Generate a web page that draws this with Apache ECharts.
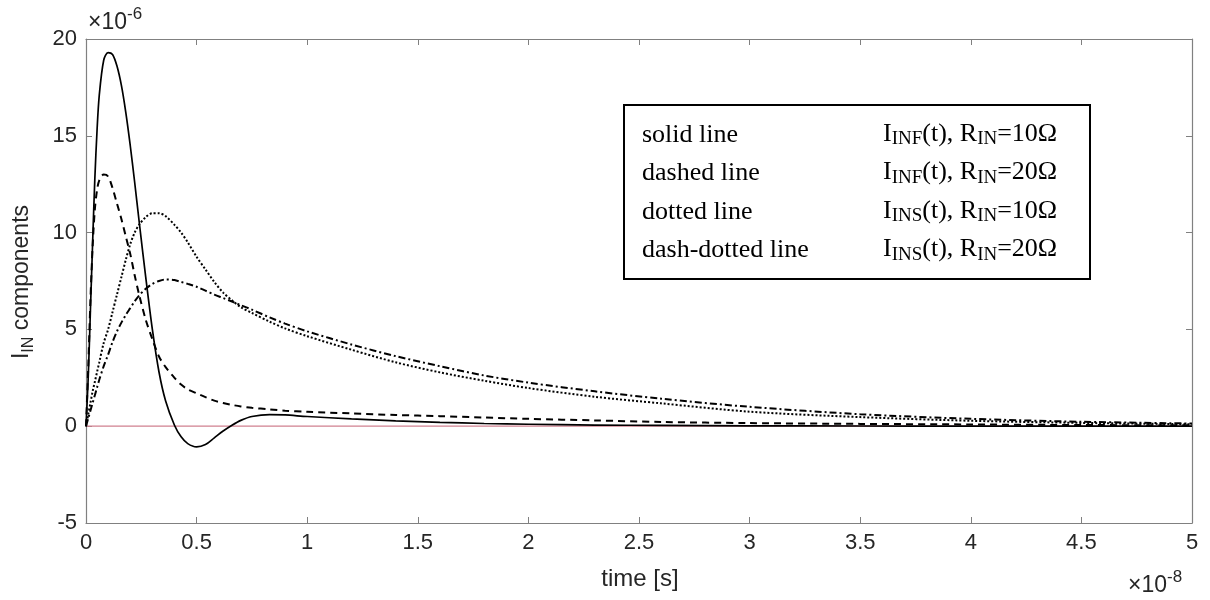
<!DOCTYPE html>
<html><head><meta charset="utf-8">
<script src="https://cdn.jsdelivr.net/npm/echarts@6/dist/echarts.min.js"></script>
<style>html,body{margin:0;padding:0;background:#fff}#c{width:1210px;height:600px}</style>
</head><body><div id="c"></div>
<script>
// time in units of 1e-8 s, currents in units of 1e-6 A
const time = [0, 0.01, 0.02, 0.03, 0.04, 0.05, 0.06, 0.08, 0.1, 0.12, 0.14, 0.16, 0.18, 0.2, 0.22, 0.24, 0.27, 0.3, 0.33, 0.36, 0.4, 0.43, 0.46, 0.5, 0.54, 0.58, 0.62, 0.66, 0.7, 0.75, 0.83, 0.9, 1.0, 1.2, 1.4, 1.6, 1.8, 2.0, 2.3, 2.6, 3.0, 3.5, 4.0, 4.5, 5.0];
const solidINF10 = [0, 2.5, 6, 9.5, 12.8, 15.3, 17.1, 18.9, 19.3, 19.2, 18.6, 17.6, 16.2, 14.5, 12.6, 10.6, 7.7, 5.0, 2.8, 1.3, 0.05, -0.55, -0.9, -1.07, -0.95, -0.6, -0.25, 0.05, 0.3, 0.5, 0.6, 0.58, 0.5, 0.38, 0.28, 0.2, 0.14, 0.1, 0.06, 0.04, 0.02, 0.01, 0.005, 0, 0];
const dashedINF20 = [0, 3, 6.5, 9.3, 11.2, 12.2, 12.7, 13.0, 12.9, 12.3, 11.5, 10.7, 9.8, 8.9, 7.8, 6.8, 5.5, 4.5, 3.6, 3.05, 2.5, 2.15, 1.9, 1.7, 1.5, 1.32, 1.2, 1.1, 1.02, 0.95, 0.87, 0.8, 0.74, 0.66, 0.58, 0.52, 0.45, 0.38, 0.3, 0.22, 0.16, 0.12, 0.09, 0.06, 0.05];
const dottedINS10 = [0, 0.6, 1.2, 1.8, 2.3, 2.8, 3.3, 4.3, 5.0, 5.9, 6.8, 7.7, 8.6, 9.4, 10.0, 10.4, 10.8, 11.0, 11.0, 10.85, 10.4, 10.0, 9.5, 8.75, 8.1, 7.45, 6.9, 6.5, 6.15, 5.85, 5.4, 5.05, 4.65, 3.95, 3.3, 2.78, 2.35, 1.97, 1.52, 1.18, 0.75, 0.47, 0.28, 0.17, 0.1];
const dashDotINS20 = [0, 0.4, 0.8, 1.2, 1.6, 2.0, 2.4, 3.1, 3.7, 4.35, 4.9, 5.35, 5.75, 6.1, 6.45, 6.75, 7.1, 7.35, 7.5, 7.58, 7.55, 7.45, 7.35, 7.2, 7.0, 6.8, 6.62, 6.44, 6.25, 6.02, 5.62, 5.3, 4.9, 4.22, 3.62, 3.1, 2.62, 2.25, 1.8, 1.42, 1.0, 0.62, 0.38, 0.23, 0.14];
const zeroLine = [[0, 0], [5, 0]];
const xTicks = [0, 0.5, 1, 1.5, 2, 2.5, 3, 3.5, 4, 4.5, 5];
const yTicks = [-5, 0, 5, 10, 15, 20];
const legendRows = [
  ['solid line', 'INF', '10'],
  ['dashed line', 'INF', '20'],
  ['dotted line', 'INS', '10'],
  ['dash-dotted line', 'INS', '20']
];

const pair = arr => time.map((t, i) => [t, arr[i]]);
const axisColor = '#808080';
const labelColor = '#262626';
const sans = 'Liberation Sans, Arial, sans-serif';
const serif = 'Liberation Serif, Times New Roman, serif';

function xAxisCfg(pos, showLabel) {
  return {
    type: 'value', position: pos, min: xTicks[0], max: xTicks[xTicks.length - 1], interval: 0.5,
    axisLine: { show: true, onZero: false, lineStyle: { color: axisColor, width: 1.2 } },
    axisTick: { show: true, inside: true, length: 6, lineStyle: { color: axisColor } },
    splitLine: { show: false },
    axisLabel: { show: showLabel, fontSize: 22, color: labelColor, fontFamily: sans, margin: 9,
      formatter: v => String(v) }
  };
}
function yAxisCfg(pos, showLabel) {
  return {
    type: 'value', position: pos, min: yTicks[0], max: yTicks[yTicks.length - 1], interval: 5,
    axisLine: { show: true, onZero: false, lineStyle: { color: axisColor, width: 1.2 } },
    axisTick: { show: true, inside: true, length: 6, lineStyle: { color: axisColor } },
    splitLine: { show: false },
    axisLabel: { show: showLabel, fontSize: 22, color: labelColor, fontFamily: sans, margin: 9 }
  };
}

const graphics = [
  { type: 'rect', x: 624, y: 105, shape: { width: 466, height: 174 },
    style: { fill: '#fff', stroke: '#000', lineWidth: 2 }, z: 10 }
];
legendRows.forEach((r, i) => {
  const y = 135 + i * 38.5;
  graphics.push({
    type: 'text', x: 642, y: y, z: 11,
    style: { text: r[0], fontSize: 26, fontFamily: serif, fill: '#000', verticalAlign: 'middle' }
  });
  graphics.push({
    type: 'text', x: 883, y: y - 3, z: 11,
    style: {
      text: '{m|I}{s|' + r[1] + '}{m|(t), R}{s|IN}{m|=' + r[2] + 'Ω}',
      verticalAlign: 'middle',
      rich: {
        m: { fontSize: 26, fontFamily: serif, fill: '#000', lineHeight: 30, verticalAlign: 'bottom' },
        s: { fontSize: 19, fontFamily: serif, fill: '#000', lineHeight: 30, verticalAlign: 'bottom', padding: [0, 0, -2, 0] }
      }
    }
  });
});
graphics.push(
  { type: 'text', x: 88, y: 6, z: 11,
    style: { text: '{n|×10}{p|-6}', rich: {
      n: { fontSize: 23, fontFamily: sans, fill: labelColor, lineHeight: 28, verticalAlign: 'bottom' },
      p: { fontSize: 17, fontFamily: sans, fill: labelColor, lineHeight: 28, verticalAlign: 'top' } } } },
  { type: 'text', x: 1128, y: 569, z: 11,
    style: { text: '{n|×10}{p|-8}', rich: {
      n: { fontSize: 23, fontFamily: sans, fill: labelColor, lineHeight: 28, verticalAlign: 'bottom' },
      p: { fontSize: 17, fontFamily: sans, fill: labelColor, lineHeight: 28, verticalAlign: 'top' } } } },
  { type: 'text', x: 640, y: 579, z: 11,
    style: { text: 'time [s]', fontSize: 24, fontFamily: sans, fill: labelColor, align: 'center', verticalAlign: 'middle' } },
  { type: 'text', x: 22, y: 282, rotation: Math.PI / 2, z: 11,
    style: { text: '{m|I}{s|IN}{m| components}', align: 'center', verticalAlign: 'middle', rich: {
      m: { fontSize: 23, fontFamily: sans, fill: labelColor, lineHeight: 30, verticalAlign: 'middle' },
      s: { fontSize: 16, fontFamily: sans, fill: labelColor, lineHeight: 30, verticalAlign: 'bottom' } } } }
);

const option = {
  animation: false,
  backgroundColor: '#fff',
  grid: { left: 86, right: 18, top: 39, bottom: 77 },
  xAxis: [xAxisCfg('bottom', true), xAxisCfg('top', false)],
  yAxis: [yAxisCfg('left', true), yAxisCfg('right', false)],
  series: [
    { type: 'line', name: 'zero', data: zeroLine, symbol: 'none', lineStyle: { color: '#d0808f', width: 1.3 }, z: 1 },
    { type: 'line', name: 'solid', data: pair(solidINF10), symbol: 'none', smooth: 0.3, lineStyle: { color: '#000', width: 1.7, type: 'solid' }, z: 3 },
    { type: 'line', name: 'dashed', data: pair(dashedINF20), symbol: 'none', smooth: 0.3, lineStyle: { color: '#000', width: 2, type: [7, 5] }, z: 3 },
    { type: 'line', name: 'dotted', data: pair(dottedINS10), symbol: 'none', smooth: 0.3, lineStyle: { color: '#000', width: 2, type: [2, 2] }, z: 3 },
    { type: 'line', name: 'dashdot', data: pair(dashDotINS20), symbol: 'none', smooth: 0.3, lineStyle: { color: '#000', width: 2, type: [7, 3, 2, 3] }, z: 3 }
  ],
  graphic: graphics
};
const chart = echarts.init(document.getElementById('c'), null, { renderer: 'canvas' });
chart.setOption(option);
</script>
</body></html>
